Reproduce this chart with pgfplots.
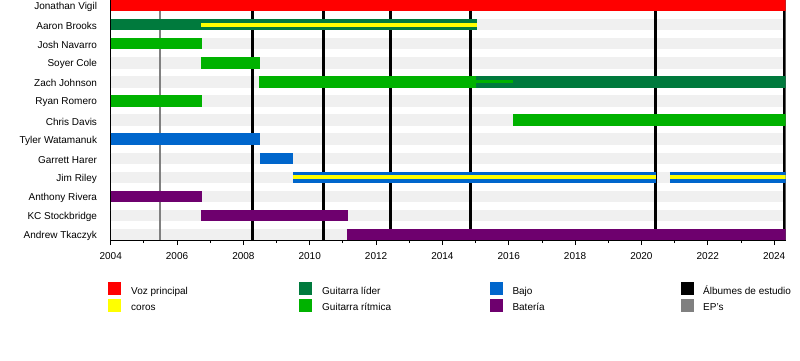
\documentclass[border=0pt]{standalone}
\usepackage{fontspec}
\setmainfont{Liberation Sans}
\usepackage{pgfplots}
\pgfplotsset{compat=1.18}
\definecolor{voz}{RGB}{255,0,0}
\definecolor{coros}{RGB}{255,255,0}
\definecolor{lead}{RGB}{0,122,61}
\definecolor{rhythm}{RGB}{0,178,0}
\definecolor{bajo}{RGB}{0,102,204}
\definecolor{bat}{RGB}{110,0,110}
\definecolor{eps}{RGB}{128,128,128}
\definecolor{stripe}{RGB}{240,240,240}
\begin{document}
\begin{tikzpicture}[x=1pt,y=1pt]
\path[use as bounding box] (0,0) rectangle (800,360);
\begin{axis}[
  at={(110.7pt,120pt)}, anchor=south west,
  width=675pt, height=240pt, scale only axis,
  xmin=2004, xmax=2024.35, ymin=-0.28, ymax=12.29,
  axis x line*=bottom, axis y line*=left,
  axis line style={black, line width=1pt},
  xtick={2004,2006,...,2024},
  minor xtick={2005,2007,...,2023},
  tick align=outside, major tick length=5pt, minor tick length=3pt,
  x tick style={black, line width=0.8pt},
  /pgf/number format/1000 sep={},
  /pgf/number format/assume math mode=true,
  ticklabel style={font=\fontsize{10}{12}\selectfont},
  ytick={0,...,12},
  yticklabels={Andrew Tkaczyk, KC Stockbridge, Anthony Rivera, Jim Riley, Garrett Harer, Tyler Watamanuk, Chris Davis, Ryan Romero, Zach Johnson, Soyer Cole, Josh Navarro, Aaron Brooks, Jonathan Vigil},
  y tick style={draw=none},
  y tick label style={inner sep=0pt, xshift=-8.5pt, yshift=-1.5pt},
  x tick label style={yshift=-3.5pt},
  unbounded coords=jump,
  every axis plot/.append style={no marks, forget plot},
]
% background stripes
\addplot[stripe, line width=11.5pt] coordinates {
 (2004,0) (2024.3,0) (nan,nan) (2004,1) (2024.3,1) (nan,nan)
 (2004,2) (2024.3,2) (nan,nan) (2004,3) (2024.3,3) (nan,nan)
 (2004,4) (2024.3,4) (nan,nan) (2004,5) (2024.3,5) (nan,nan)
 (2004,6) (2024.3,6) (nan,nan) (2004,7) (2024.3,7) (nan,nan)
 (2004,8) (2024.3,8) (nan,nan) (2004,9) (2024.3,9) (nan,nan)
 (2004,10) (2024.3,10) (nan,nan) (2004,11) (2024.3,11)};
% EP
\addplot[eps, line width=2.5pt] coordinates {(2005.49,-0.28) (2005.49,12.29)};
% studio albums
\addplot[black, line width=3pt] coordinates {(2008.27,-0.28) (2008.27,12.29)};
\addplot[black, line width=3pt] coordinates {(2010.41,-0.28) (2010.41,12.29)};
\addplot[black, line width=3pt] coordinates {(2012.45,-0.28) (2012.45,12.29)};
\addplot[black, line width=3pt] coordinates {(2014.86,-0.28) (2014.86,12.29)};
\addplot[black, line width=3pt] coordinates {(2020.43,-0.28) (2020.43,12.29)};
\addplot[black, line width=3pt] coordinates {(2024.31,-0.28) (2024.31,12.29)};
% Jonathan Vigil (12)
\addplot[voz, line width=11.5pt] coordinates {(2004,12) (2024.35,12)};
% Aaron Brooks (11)
\addplot[lead, line width=11.5pt] coordinates {(2004,11) (2015.04,11)};
\addplot[coros, line width=4pt] coordinates {(2006.72,11) (2015.04,11)};
% Josh Navarro (10)
\addplot[rhythm, line width=11.5pt] coordinates {(2004,10) (2006.75,10)};
% Soyer Cole (9)
\addplot[rhythm, line width=11.5pt] coordinates {(2006.72,9) (2008.5,9)};
% Zach Johnson (8)
\addplot[rhythm, line width=11.5pt] coordinates {(2008.47,8) (2015.01,8)};
\addplot[lead, line width=11.5pt] coordinates {(2015.01,8) (2024.35,8)};
\addplot[rhythm, line width=3pt] coordinates {(2015.01,8) (2016.13,8)};
% Ryan Romero (7)
\addplot[rhythm, line width=11.5pt] coordinates {(2004,7) (2006.75,7)};
% Chris Davis (6)
\addplot[rhythm, line width=11.5pt] coordinates {(2016.13,6) (2024.35,6)};
% Tyler Watamanuk (5)
\addplot[bajo, line width=11.5pt] coordinates {(2004,5) (2008.5,5)};
% Garrett Harer (4)
\addplot[bajo, line width=11.5pt] coordinates {(2008.5,4) (2009.5,4)};
% Jim Riley (3)
\addplot[bajo, line width=11.5pt] coordinates {(2009.5,3) (2020.43,3) (nan,nan) (2020.86,3) (2024.35,3)};
\addplot[coros, line width=4pt] coordinates {(2009.5,3) (2020.43,3) (nan,nan) (2020.86,3) (2024.35,3)};
% Anthony Rivera (2)
\addplot[bat, line width=11.5pt] coordinates {(2004,2) (2006.75,2)};
% KC Stockbridge (1)
\addplot[bat, line width=11.5pt] coordinates {(2006.72,1) (2011.15,1)};
% Andrew Tkaczyk (0)
\addplot[bat, line width=11.5pt] coordinates {(2011.12,0) (2024.35,0)};
\end{axis}
% legend
\begin{scope}[every node/.style={anchor=base west, inner sep=0pt, font=\fontsize{10}{12}\selectfont}]
\fill[voz] (108.3,65) rectangle (121,78);
\node at (131,66) {Voz principal};
\fill[coros] (108.3,48.3) rectangle (121,61);
\node at (131,49.3) {coros};
\fill[lead] (299.3,65) rectangle (312,78);
\node at (322,66) {Guitarra líder};
\fill[rhythm] (299.3,48.3) rectangle (312,61);
\node at (322,49.3) {Guitarra rítmica};
\fill[bajo] (490,65) rectangle (502.7,78);
\node at (512.3,66) {Bajo};
\fill[bat] (490,48.3) rectangle (502.7,61);
\node at (512.3,49.3) {Batería};
\fill[black] (681,65) rectangle (693.7,78);
\node at (703,66) {Álbumes de estudio};
\fill[eps] (681,48.3) rectangle (693.7,61);
\node at (703,49.3) {EP's};
\end{scope}
\end{tikzpicture}
\end{document}
